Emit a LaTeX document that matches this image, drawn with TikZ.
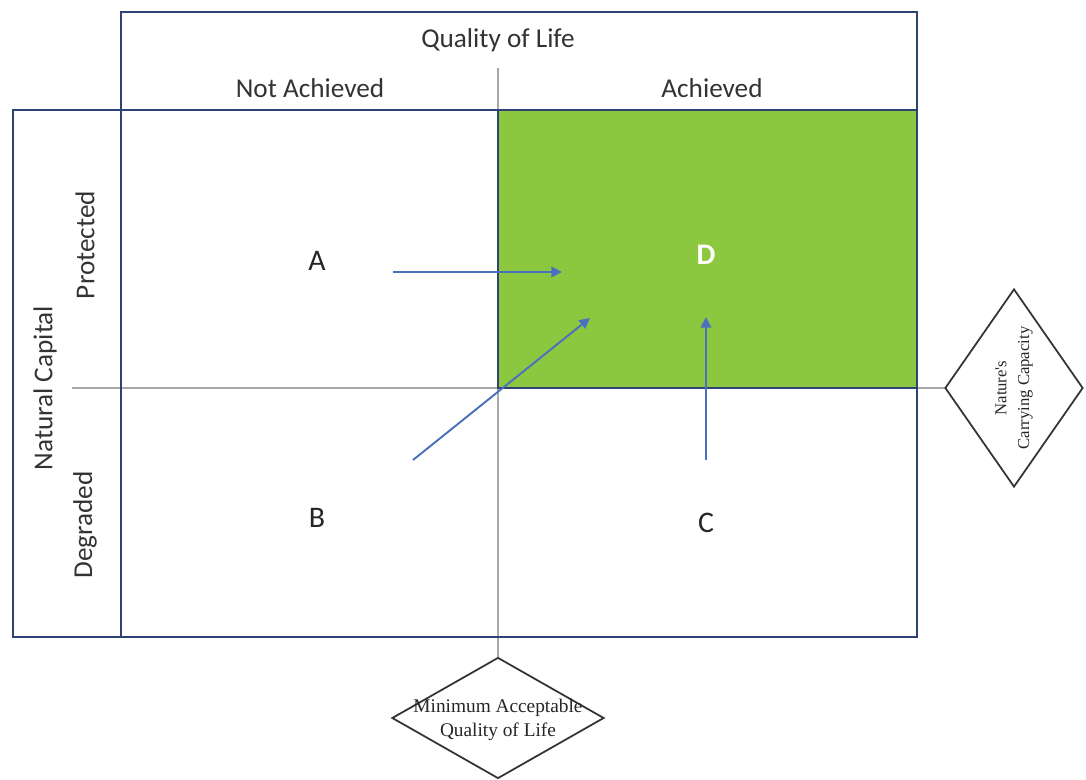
\documentclass[tikz,border=0pt]{standalone}
\usepackage{fontspec}
\setmainfont{Carlito}
\newfontfamily\serifsmall{Liberation Serif}
\usetikzlibrary{shapes.geometric,arrows.meta}
\definecolor{navy}{HTML}{2E4374}
\definecolor{divgrey}{HTML}{A8A8A8}
\definecolor{arrowblue}{HTML}{4A70BE}
\definecolor{qgreen}{HTML}{8CC83F}
\tikzset{
  frame/.style={draw=navy, line width=1.2pt},
  divider/.style={draw=divgrey, line width=0.8pt},
  lbl/.style={font=\fontsize{15.5}{18}\selectfont, text=black!80},
  letter/.style={font=\fontsize{17}{20}\selectfont, text=black!85},
  move/.style={draw=arrowblue, line width=1.1pt, -{Triangle[length=6pt,width=6pt]}},
  threshold/.style={diamond, draw=black!80, line width=1pt, fill=white, inner sep=0pt},
  dtext/.style={font=\serifsmall\fontsize{9.5}{13}\selectfont, text=black!85, align=center},
}
\begin{document}
\begin{tikzpicture}[x=0.02cm, y=-0.02cm]
\useasboundingbox (0,0) rectangle (1086,780);
% green quadrant
\fill[qgreen] (498,110) rectangle (917,388);
% dividers
\draw[divider] (498,68) -- (498,657);
\draw[divider] (72,388) -- (945,388);
% frames
\draw[frame] (121,12) rectangle (917,110);
\draw[frame] (13,110) rectangle (917,637);
\draw[frame] (121,110) -- (121,637);
\draw[frame] (498,110) -- (498,388) -- (917,388);
% header labels
\node[lbl] (qol) at (498,40) {Quality of Life};
\node[lbl] (na) at (310,88) {Not Achieved};
\node[lbl] (ach) at (712,88) {Achieved};
\node[lbl, rotate=90] (nc) at (45,388) {Natural Capital};
\node[lbl, rotate=90] (prot) at (85,245) {Protected};
\node[lbl, rotate=90] (deg) at (85,525) {Degraded};
% quadrant letters
\node[letter] (A) at (317,261) {A};
\node[letter] (B) at (317,518) {B};
\node[letter] (C) at (706,523) {C};
\node[letter, text=white, font=\bfseries\fontsize{17}{20}\selectfont] (D) at (706,255) {D};
% arrows
\coordinate (a0) at (393,272);
\coordinate (a1) at (562,272);
\coordinate (b0) at (413,460);
\coordinate (b1) at (590,318);
\coordinate (c0) at (706,460);
\coordinate (c1) at (706,317);
\draw[move] (a0) -- (a1);
\draw[move] (b0) -- (b1);
\draw[move] (c0) -- (c1);
% threshold diamonds
\node[threshold, minimum width=138*0.02cm, minimum height=198*0.02cm] (ncc) at (1014,388) {};
\node[dtext, rotate=90] (ncct) at (ncc) {Nature's\\Carrying Capacity};
\node[threshold, minimum width=212*0.02cm, minimum height=121*0.02cm] (maq) at (498,718) {};
\node[dtext, font=\serifsmall\fontsize{11}{13.5}\selectfont] (maqt) at (498,720) {Minimum Acceptable\\Quality of Life};
\end{tikzpicture}
\end{document}
